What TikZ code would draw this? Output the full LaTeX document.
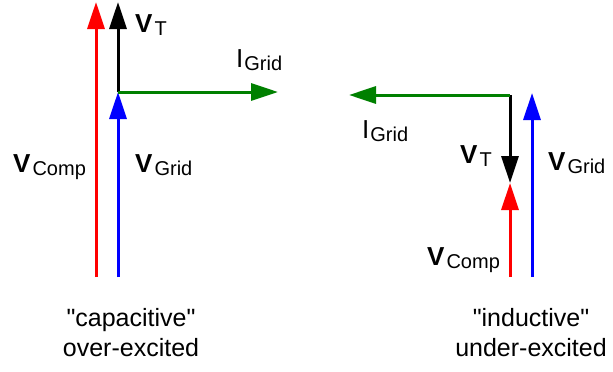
\documentclass[tikz,border=0pt]{standalone}
\usepackage{fontspec}
\setmainfont{Liberation Sans}[Ligatures=TeXOff]
\usetikzlibrary{
  arrows.meta,
  positioning
}
\definecolor{phred}{HTML}{FF0000}
\definecolor{phblue}{HTML}{0000FF}
\definecolor{phgreen}{HTML}{008000}

% phasor label: letter with lowered subscript
\newcommand{\phlab}[2]{{\fontsize{26}{26}\selectfont\bfseries #1}\kern2pt\raisebox{-3pt}{\fontsize{20}{20}\selectfont #2}}
\newcommand{\curlab}[2]{{\fontsize{26}{26}\selectfont #1}\kern1pt\raisebox{-3pt}{\fontsize{20}{20}\selectfont #2}}

\begin{document}
\begin{tikzpicture}[
      x=1pt, y=-1pt,
      phasor/.style={-{Triangle[length=27pt, width=17pt]}, line width=3pt},
      lab/.style={anchor=base west, inner sep=0pt, text=black},
      caption/.style={align=center, inner sep=0pt,
        font=\fontsize{25}{30}\selectfont}
    ]
      \useasboundingbox (0,0) rectangle (613,372);

      % Left diagram: capacitive
      \coordinate (lorig) at (118,92);
      \coordinate (lvtip) at (118,2);
      \coordinate (lctip) at (96,2);
      \coordinate (lcbot) at (96,277);
      \coordinate (lgbot) at (118,277);
      \coordinate (litip) at (278,92);

      \draw[phasor, phred] (lcbot) -- (lctip);
      \draw[phasor, phblue] (lgbot) -- (lorig);
      \draw[phasor, black] (lorig) -- (lvtip);
      \draw[phasor, phgreen] (lorig) -- (litip);

      \node[lab] (lvt) at (135,32) {\phlab{V}{T}};
      \node[lab] (lig) at (236,67) {\curlab{I}{Grid}};
      \node[lab] (lvc) at (13,172) {\phlab{V}{Comp}};
      \node[lab] (lvg) at (135,172) {\phlab{V}{Grid}};

      % Right diagram: inductive
      \coordinate (rorig) at (510,95);
      \coordinate (rvtip) at (510,183);
      \coordinate (rcbot) at (510,277);
      \coordinate (rgbot) at (532,277);
      \coordinate (rgtip) at (532,93);
      \coordinate (ritip) at (349,95);

      \draw[phasor, phblue] (rgbot) -- (rgtip);
      \draw[phasor, phred] (rcbot) -- (rvtip);
      \draw[phasor, black] (rorig) -- (rvtip);
      \draw[phasor, phgreen] (rorig) -- (ritip);

      \node[lab] (rig) at (362,138) {\curlab{I}{Grid}};
      \node[lab] (rvt) at (460,163) {\phlab{V}{T}};
      \node[lab] (rvg) at (548,170) {\phlab{V}{Grid}};
      \node[lab] (rvc) at (427,265) {\phlab{V}{Comp}};

      % Captions
      \node[caption, anchor=north] (lcap) at (131,308) {"capacitive"\\over-excited};
      \node[caption, anchor=north] (rcap) at (531,308) {"inductive"\\under-excited};
    \end{tikzpicture}
\end{document}
